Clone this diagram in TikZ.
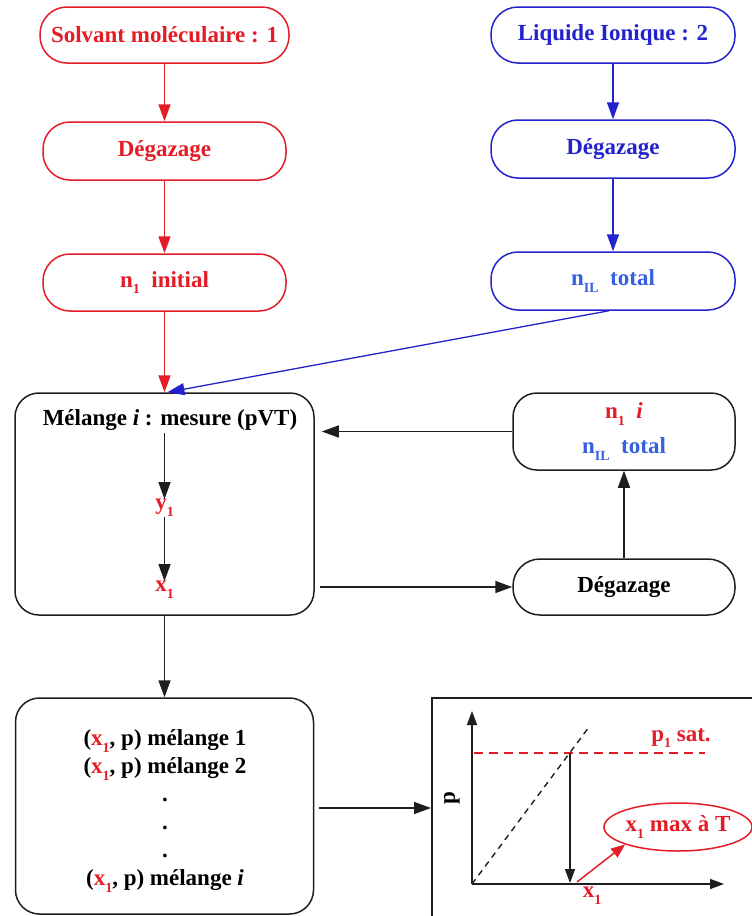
\documentclass[tikz,border=0pt]{standalone}
\usepackage{fontspec}
\setmainfont{Liberation Serif}
\usetikzlibrary{arrows.meta,shapes.geometric}
\definecolor{cred}{RGB}{228,28,38}
\definecolor{cblue}{RGB}{35,35,205}
\definecolor{clblue}{RGB}{55,95,225}
\definecolor{cgray}{RGB}{30,30,30}
\newcommand{\sbs}[1]{\raisebox{-0.3em}{\fontsize{14}{14}\selectfont #1}}
\begin{document}
\begin{tikzpicture}[x=1pt,y=-1pt,
  every node/.style={font=\fontsize{23}{27}\selectfont\bfseries, inner sep=0pt},
  tipa/.style={-{Triangle[length=17pt,width=12pt]}},
  tipb/.style={-{Triangle[length=14pt,width=10pt]}},
  redbox/.style={draw=cred, line width=1.5pt, rounded corners=27pt, minimum width=243pt, minimum height=57pt, text=cred},
  bluebox/.style={draw=cblue, line width=1.5pt, rounded corners=27pt, minimum width=244pt, minimum height=57pt, text=cblue},
  blackbox/.style={draw=cgray, line width=1.5pt, rounded corners=24pt, minimum width=222pt, text=black},
  bigbox/.style={draw=cgray, line width=1.5pt, rounded corners=24pt, minimum width=299pt},
  redline/.style={draw=cred, line width=1.6pt},
  blueline/.style={draw=cblue, line width=1.6pt},
  blackline/.style={draw=cgray, line width=1.6pt}
]
\useasboundingbox (0,0) rectangle (752,916);

% red column
\node[redbox, minimum width=249pt, minimum height=56pt] (s1) at (164.5,35) {Solvant moléculaire : 1};
\node[redbox, minimum height=58pt] (d1) at (164.5,151) {Dégazage};
\node[redbox] (n1) at (164.5,282.5) {n\sbs{1}\ \ initial};

% blue column
\node[bluebox, minimum height=56pt] (s2) at (613,35) {Liquide Ionique : 2};
\node[bluebox, minimum height=58pt] (d2) at (613,149) {Dégazage};
\node[bluebox, minimum height=58pt, text=clblue] (n2) at (613,281) {n\sbs{IL}\ \ total};

% mixture box
\node[bigbox, minimum height=222pt] (mel) at (164.5,504) {};
\node (mt) at (170,420) {Mélange \textit{i} : mesure (pVT)};
\node[text=cred] (y1) at (164.5,508) {y\sbs{1}};
\node[text=cred] (x1) at (164.5,590) {x\sbs{1}};
\coordinate (mt1) at (164.5,433);

% right boxes
\node[blackbox, minimum height=77pt, align=center, font=\fontsize{23}{35}\selectfont\bfseries] (ni) at (624,431.5)
  {\textcolor{cred}{n\sbs{1}\ \ \textit{i}}\\ \textcolor{clblue}{n\sbs{IL}\ \ total}};
\node[blackbox, minimum height=56pt, rounded corners=27pt] (dg) at (624,587) {Dégazage};

% results box
\node[bigbox, minimum width=298pt, minimum height=216pt] (res) at (164.5,806) {};
\node[align=center, font=\fontsize{23}{28}\selectfont\bfseries] (rt) at (165,811)
  {(\textcolor{cred}{x\sbs{1}}, p) mélange 1\\
   (\textcolor{cred}{x\sbs{1}}, p) mélange 2\\ .\\ .\\ .\\
   (\textcolor{cred}{x\sbs{1}}, p) mélange \textit{i}};

% graph box
\node[draw=cgray, line width=1.5pt, minimum width=330pt, minimum height=230pt, anchor=north west] (gb) at (431,697) {};
\coordinate (O) at (472,884);
\coordinate (ytop) at (472,711);
\coordinate (xend) at (724,884);
\coordinate (dtop) at (589,727);
\coordinate (rs) at (474,753);
\coordinate (re) at (705,753);
\coordinate (ip) at (570,753);
\coordinate (ib) at (570,883);
\coordinate (ra) at (577,882);
\node[draw=cred, line width=1.5pt, ellipse, minimum width=138pt, minimum height=48pt, text=cred] (el) at (678,827) {x\sbs{1} max à T};
\node[text=cred] (psat) at (681,738) {p\sbs{1} sat.};
\node[text=cred] (xl) at (592,896) {x\sbs{1}};
\node[rotate=90] (pl) at (452,798) {p};

% connectors red
\draw[redline, tipa] (s1) -- (d1);
\draw[redline, tipa] (d1) -- (n1);
\draw[redline, tipa] (n1) -- (mel.north);
% blue
\draw[blueline, tipa] (s2) -- (d2);
\draw[blueline, tipa] (d2) -- (n2);
\draw[draw=cblue, line width=1.3pt, tipa] ([xshift=-4pt]n2.south) -- ([xshift=3pt]mel.north);
% black
\draw[blackline, tipa] (mt1) -- (y1.north);
\draw[blackline, tipa] (y1.south) -- (x1.north);
\draw[blackline, tipa, shorten >=7pt] (ni.west) -- (mel.east |- ni.west);
\draw[blackline, tipa, shorten <=5pt] (mel.east |- dg.west) -- (dg.west);
\draw[blackline, tipa] (dg.north) -- (ni.south);
\draw[blackline, tipa] (mel.south) -- (res.north);
\draw[blackline, tipa, shorten <=5pt] (res.east |- 0,808) -- (gb.west |- 0,808);

% graph
\draw[blackline, tipb] (O) -- (ytop);
\draw[blackline, tipb] (O) -- (xend);
\draw[cgray, line width=1.4pt, dash pattern=on 6pt off 5pt] (O) -- (dtop);
\draw[cred, line width=1.4pt, dash pattern=on 9pt off 6pt] (rs) -- (re);
\draw[blackline, tipb] (ip) -- (ib);
\draw[cred, line width=1.5pt, -{Triangle[length=14pt,width=11pt]}] (ra) -- (el.south west);
\end{tikzpicture}
\end{document}
